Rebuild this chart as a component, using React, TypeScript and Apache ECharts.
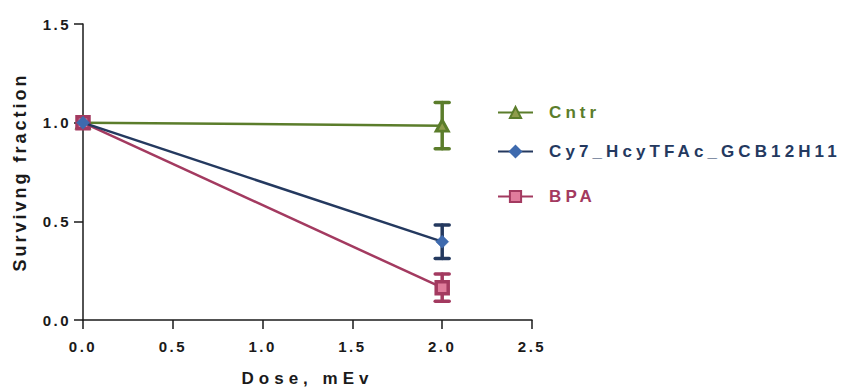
import React, { useEffect, useRef } from "react";
import * as echarts from "echarts";

const doses = [0, 2];
const seriesNames = ["Cntr", "Cy7_HcyTFAc_GCB12H11", "BPA"];
const cntrMean = [1.0, 0.985];
const cntrErr = [0, 0.117];
const cy7Mean = [1.0, 0.397];
const cy7Err = [0, 0.085];
const bpaMean = [1.0, 0.164];
const bpaErr = [0, 0.069];
const xTicks = [0, 0.5, 1.0, 1.5, 2.0, 2.5];
const yTicks = [0, 0.5, 1.0, 1.5];

const GREEN = "#5b7d2b";
const GREEN_FILL = "#8f9c4c";
const NAVY = "#24395f";
const NAVY_FILL = "#3e6aae";
const MAG = "#a33a60";
const MAG_FILL = "#e07c9c";
const FONT = "'Liberation Sans', Arial, sans-serif";

function pts(mean: number[]) {
  return doses.map((d, i) => [d, mean[i]]);
}
function errs(mean: number[], err: number[]) {
  return doses
    .map((d, i) => [d, mean[i] - err[i], mean[i] + err[i]])
    .filter((_, i) => err[i] > 0);
}

function errSeries(data: number[][], color: string) {
  return {
    type: "custom",
    z: 1,
    silent: true,
    encode: { x: 0, y: [1, 2] },
    data,
    renderItem: (params: any, api: any) => {
      const x = api.value(0);
      const lo = api.coord([x, api.value(1)]);
      const hi = api.coord([x, api.value(2)]);
      const hw = 7;
      const st = { stroke: color, lineWidth: 3.5, lineCap: "round" };
      return {
        type: "group",
        children: [
          { type: "line", shape: { x1: lo[0], y1: lo[1], x2: hi[0], y2: hi[1] }, style: st },
          { type: "line", shape: { x1: lo[0] - hw, y1: lo[1], x2: lo[0] + hw, y2: lo[1] }, style: st },
          { type: "line", shape: { x1: hi[0] - hw, y1: hi[1], x2: hi[0] + hw, y2: hi[1] }, style: st },
        ],
      };
    },
  };
}

function legend(name: string, color: string, top: number) {
  return {
    data: [name],
    left: 497,
    top,
    orient: "vertical",
    padding: 0,
    itemWidth: 35,
    itemHeight: 14,
    selectedMode: false,
    textStyle: { color, fontSize: 17, fontWeight: "bold", fontFamily: FONT, padding: [0, 0, 0, 11] },
  };
}

const spacingFor = (s: string) => {
  if (/^\d\.\d$/.test(s)) return "2.5px";
  if (s === "Dose, mEv") return "5px";
  if (s === "Survivng fraction") return "3px";
  return "4.1px";
};

export default function App() {
  const ref = useRef<HTMLDivElement>(null);
  useEffect(() => {
    const el = ref.current!;
    const chart = echarts.init(el, undefined, { renderer: "svg" });
    const labelStyle = { color: "#1a1a1a", fontSize: 15, fontWeight: "bold", fontFamily: FONT };
    chart.setOption({
      animation: false,
      grid: { left: 83, right: 315, top: 24, bottom: 68 },
      legend: [legend(seriesNames[0], GREEN, 104), legend(seriesNames[1], NAVY, 143), legend(seriesNames[2], MAG, 188)],
      xAxis: {
        type: "value",
        min: xTicks[0],
        max: xTicks[xTicks.length - 1],
        interval: 0.5,
        name: "Dose, mEv",
        nameLocation: "middle",
        nameGap: 50,
        nameTextStyle: { color: "#1a1a1a", fontSize: 17, fontWeight: "bold", fontFamily: FONT },
        axisLine: { onZero: false, lineStyle: { color: "#1a1a1a", width: 1.5 } },
        axisTick: { length: 9, lineStyle: { color: "#1a1a1a", width: 1.5 } },
        splitLine: { show: false },
        axisLabel: { ...labelStyle, margin: 19, formatter: (v: number) => v.toFixed(1) },
      },
      yAxis: {
        type: "value",
        min: yTicks[0],
        max: yTicks[yTicks.length - 1],
        interval: 0.5,
        name: "Survivng fraction",
        nameLocation: "middle",
        nameGap: 54,
        nameTextStyle: { color: "#1a1a1a", fontSize: 18, fontWeight: "bold", fontFamily: FONT },
        axisLine: { show: true, onZero: false, lineStyle: { color: "#1a1a1a", width: 1.5 } },
        axisTick: { show: true, length: 9, lineStyle: { color: "#1a1a1a", width: 1.5 } },
        splitLine: { show: false },
        axisLabel: { ...labelStyle, margin: 12, formatter: (v: number) => v.toFixed(1) },
      },
      series: [
        errSeries(errs(cntrMean, cntrErr), GREEN),
        errSeries(errs(cy7Mean, cy7Err), NAVY),
        errSeries(errs(bpaMean, bpaErr), MAG),
        {
          type: "line",
          name: seriesNames[0],
          z: 2,
          data: pts(cntrMean),
          symbol: "triangle",
          symbolSize: [12, 11],
          lineStyle: { color: GREEN, width: 2.5 },
          itemStyle: { color: GREEN_FILL, borderColor: GREEN, borderWidth: 3 },
        },
        {
          type: "line",
          name: seriesNames[2],
          z: 3,
          data: pts(bpaMean),
          symbol: "rect",
          symbolSize: 12,
          lineStyle: { color: MAG, width: 2.5 },
          itemStyle: { color: MAG_FILL, borderColor: MAG, borderWidth: 3.5 },
        },
        {
          type: "line",
          name: seriesNames[1],
          z: 4,
          data: pts(cy7Mean),
          symbol: "diamond",
          symbolSize: 13,
          lineStyle: { color: NAVY, width: 2.5 },
          itemStyle: { color: NAVY_FILL, borderColor: NAVY_FILL, borderWidth: 0.5 },
        },
      ],
    });
    const apply = () => {
      el.querySelectorAll("text").forEach((t) => {
        (t as SVGTextElement).style.letterSpacing = spacingFor(t.textContent || "");
      });
    };
    apply();
    chart.on("finished", apply);
    const tm = setTimeout(apply, 50);
    return () => {
      clearTimeout(tm);
      chart.dispose();
    };
  }, []);
  return <div ref={ref} style={{ width: 847, height: 392, position: "absolute", left: 0, top: 0 }} />;
}
